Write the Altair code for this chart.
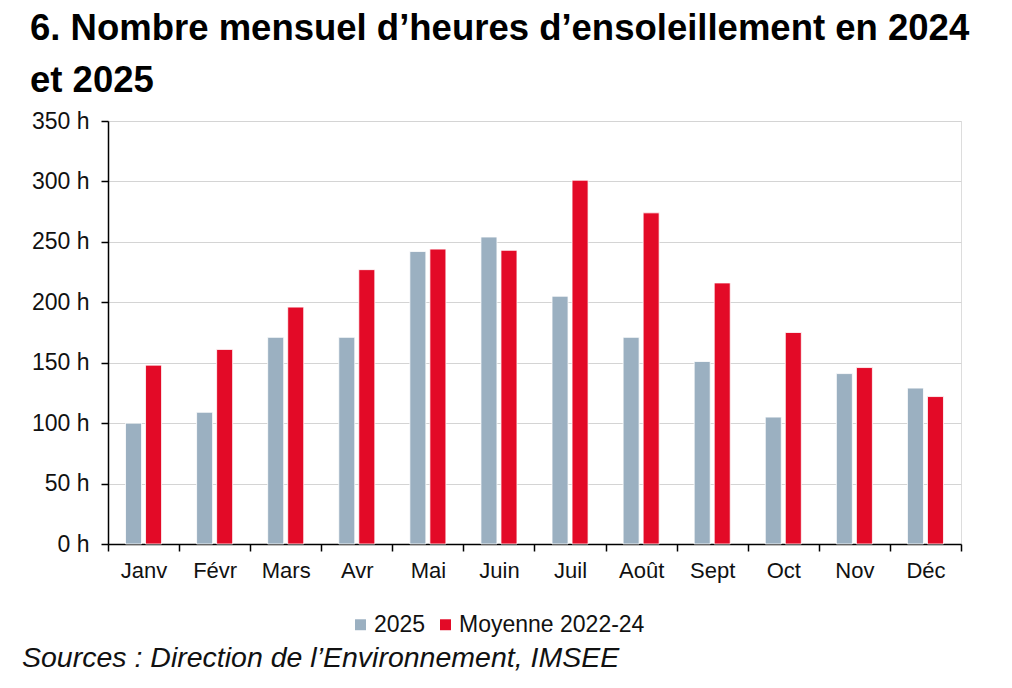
import altair as alt
import pandas as pd

months = ["Janv", "Févr", "Mars", "Avr", "Mai", "Juin", "Juil", "Août", "Sept", "Oct", "Nov", "Déc"]
series_names = ["2025", "Moyenne 2022-24"]
values_2025 = [100, 109, 171, 171, 242, 254, 205, 171, 151, 105, 141, 129]
values_avg = [148, 161, 196, 227, 244, 243, 301, 274, 216, 175, 146, 122]
colors = ["#9BB0C1", "#E30A27"]
title_lines = ["6. Nombre mensuel d\u2019heures d\u2019ensoleillement en 2024", "et 2025"]
source_text = "Sources : Direction de l\u2019Environnement, IMSEE"

rows = []
for i, m in enumerate(months):
    rows.append({"mois": m, "serie": series_names[0], "heures": values_2025[i]})
    rows.append({"mois": m, "serie": series_names[1], "heures": values_avg[i]})
df = pd.DataFrame(rows)

FONT = "Liberation Sans"

bars = alt.Chart(df).mark_bar(stroke="white", strokeWidth=0.8).encode(
    x=alt.X("mois:N", sort=months, title=None,
            scale=alt.Scale(paddingInner=0, paddingOuter=0),
            axis=alt.Axis(tickBand="extent", labelAngle=0, labelFontSize=22, labelFont=FONT,
                          labelColor="#111", domainColor="#000", tickColor="#000",
                          tickSize=7, labelPadding=9, grid=False, domainWidth=1.5, tickWidth=1.5)),
    xOffset=alt.XOffset("serie:N", sort=series_names,
                        scale=alt.Scale(paddingInner=0.2, paddingOuter=0.875)),
    y=alt.Y("heures:Q", title=None,
            scale=alt.Scale(domain=[0, 350], nice=False),
            axis=alt.Axis(values=[0, 50, 100, 150, 200, 250, 300, 350],
                          labelExpr="datum.value + ' h'", labelFontSize=23, labelFont=FONT,
                          labelColor="#111", domainColor="#000", tickColor="#000",
                          tickSize=7, labelPadding=12, gridColor="#d4d4d4", gridWidth=1.2,
                          domainWidth=1.5, tickWidth=1.5)),
    color=alt.Color("serie:N", sort=series_names,
                    scale=alt.Scale(domain=series_names, range=colors),
                    legend=alt.Legend(title=None, orient="none", direction="horizontal",
                                      legendX=241, legendY=492, symbolType="square",
                                      symbolSize=120, symbolStrokeWidth=0,
                                      labelFontSize=23, labelFont=FONT, labelColor="#111",
                                      labelLimit=400,
                                      columnPadding=8, symbolOffset=0, labelOffset=2)),
)

src = alt.Chart(pd.DataFrame({"t": [source_text]})).mark_text(
    align="left", baseline="alphabetic", fontSize=28.5, fontStyle="italic", font=FONT, color="#111"
).encode(x=alt.value(-86), y=alt.value(546), text="t:N")

chart = alt.layer(bars, src).properties(
    width=853, height=423,
    padding={"left": 100, "top": 113, "right": 40, "bottom": 130},
    autosize=alt.AutoSizeParams(type="none"),
    title=alt.TitleParams(text=title_lines, anchor="start", fontSize=36.5, fontWeight="bold",
                          font=FONT, color="#000", lineHeight=52, dx=-78, offset=11,
                          frame="group"),
).configure_view(strokeWidth=0, stroke="transparent").configure(background="white")

chart.save("out.html", embed_options={"renderer": "svg", "actions": False})
